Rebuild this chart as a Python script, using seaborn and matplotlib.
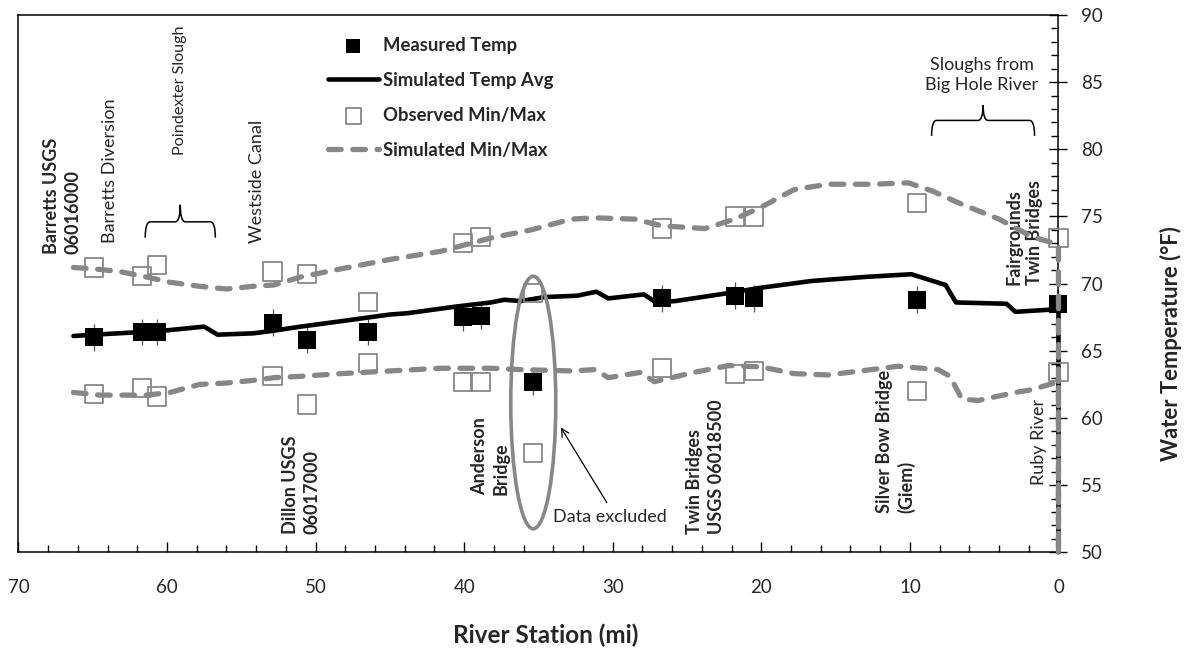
import numpy as np
import pandas as pd
import matplotlib
matplotlib.use("Agg")
import matplotlib.pyplot as plt
import seaborn as sns
from matplotlib.path import Path
from matplotlib.patches import PathPatch, Ellipse
from matplotlib.ticker import MultipleLocator

sns.set_style("white")
plt.rcParams["font.family"] = ["Lato", "DejaVu Sans"]

# ---- measured mean temperatures at monitoring sites ----
meas_station = [64.9, 61.7, 60.7, 52.9, 50.6, 46.5, 40.1, 38.9, 35.35, 26.7, 21.8, 20.5, 9.5, 0.0]
meas_temp = [66.0, 66.4, 66.4, 67.1, 65.8, 66.4, 67.5, 67.6, 62.7, 68.9, 69.1, 68.9, 68.8, 68.5]
meas_err = [1.0] * len(meas_station)

# ---- observed daily min / max at the same sites ----
obs_max = [71.2, 70.6, 71.4, 70.9, 70.7, 68.6, 73.0, 73.5, 69.3, 74.1, 75.0, 75.0, 76.0, 73.4]
obs_min = [61.8, 62.2, 61.6, 63.1, 61.0, 64.1, 62.7, 62.7, 57.4, 63.7, 63.3, 63.5, 62.0, 63.4]

# ---- simulated average temperature profile (drops to the axis at the mouth) ----
avg_station = [66.3, 64.9, 61.7, 60.2, 57.5, 56.6, 54.2, 52.8, 51.0, 48.3, 45.0, 43.8,
               40.5, 38.2, 37.3, 36.2, 34.6, 32.4, 31.1, 30.3, 27.9, 27.1, 25.8, 22.2,
               20.0, 16.6, 13.0, 9.9, 7.6, 6.9, 3.5, 2.9, 0.0, 0.0]
avg_temp = [66.1, 66.2, 66.4, 66.5, 66.8, 66.2, 66.3, 66.5, 66.8, 67.2, 67.7, 67.8,
            68.3, 68.6, 68.8, 68.7, 69.0, 69.1, 69.4, 68.9, 69.2, 68.6, 68.7, 69.3,
            69.7, 70.2, 70.5, 70.7, 69.9, 68.6, 68.5, 67.9, 68.1, 50.0]

# ---- simulated maximum temperature profile (drops to the axis at the mouth) ----
max_station = [66.3, 64.9, 63.2, 61.4, 59.8, 57.8, 56.0, 54.2, 52.8, 51.0, 48.3, 45.0,
               41.6, 38.2, 35.5, 32.8, 31.2, 28.5, 26.7, 23.8, 21.8, 20.0, 17.8, 15.5,
               12.5, 10.1, 8.5, 6.7, 4.0, 1.8, 0.0, 0.0]
max_temp = [71.2, 71.1, 70.9, 70.5, 70.1, 69.8, 69.6, 69.8, 69.9, 70.5, 71.1, 71.8,
            72.4, 73.4, 74.0, 74.8, 74.9, 74.8, 74.3, 74.1, 74.8, 75.7, 77.0, 77.4,
            77.4, 77.5, 76.9, 76.0, 74.8, 73.5, 72.9, 50.0]

# ---- simulated minimum temperature profile (drops to the axis at the mouth) ----
min_station = [66.3, 64.5, 61.4, 59.8, 57.8, 56.0, 54.2, 52.8, 51.0, 48.3, 45.0, 41.6,
               38.2, 36.2, 32.8, 31.2, 30.3, 28.1, 27.2, 24.5, 22.2, 20.0, 17.8, 15.5,
               10.8, 8.1, 7.3, 6.5, 5.4, 2.9, 1.8, 0.0, 0.0]
min_temp = [61.9, 61.7, 61.7, 61.9, 62.5, 62.6, 62.8, 63.0, 63.1, 63.3, 63.5, 63.7,
            63.7, 63.6, 63.5, 63.6, 63.0, 63.4, 62.7, 63.4, 63.9, 63.8, 63.3, 63.2,
            63.85, 63.6, 63.1, 61.4, 61.3, 61.9, 62.1, 62.7, 50.0]

# ---- site labels: (station, temperature at text base, text, bold, size) ----
site_labels = [
    (67.07, 72.2, "Barretts USGS\n06016000", True, 13),
    (63.83, 73.05, "Barretts Diversion", False, 13),
    (59.11, 79.6, "Poindexter Slough", False, 11.6),
    (53.94, 73.05, "Westside Canal", False, 13),
    (50.96, 51.34, "Dillon USGS\n06017000", True, 13),
    (38.26, 54.24, "Anderson\nBridge", True, 13),
    (23.76, 51.34, "Twin Bridges\nUSGS 06018500", True, 13),
    (10.95, 52.95, "Silver Bow Bridge\n(Giem)", True, 13),
    (2.30, 69.93, "Fairgrounds\nTwin Bridges", True, 13),
    (1.34, 54.98, "Ruby River", False, 13),
]

# ---- braces: (left station, right station, end temp, mid temp, tip temp) ----
braces = [
    (61.47, 56.75, 73.42, 74.6, 75.87),
    (8.54, 1.61, 81.0, 82.15, 83.3),
]

GRAY = "#878787"
df_obs = pd.DataFrame({"station": meas_station * 2, "temp": obs_max + obs_min})

fig = plt.figure(figsize=(11.88, 6.48), dpi=100)
ax = fig.add_axes([0.01557, 0.1477, 0.8754, 0.8292])

ax.errorbar(meas_station, meas_temp, yerr=meas_err, fmt="none", ecolor="#555555",
            elinewidth=0.9, capsize=0, zorder=2, clip_on=False)
sns.scatterplot(x=meas_station, y=meas_temp, marker="s", s=150, color="black",
                linewidth=0, label="Measured Temp", zorder=3, clip_on=False, ax=ax)
sns.lineplot(x=avg_station, y=avg_temp, sort=False, estimator=None, color="black",
             linewidth=3.3, label="Simulated Temp Avg", zorder=4, clip_on=False, ax=ax)
sns.scatterplot(data=df_obs, x="station", y="temp", marker="s", s=170, color="none",
                edgecolor=GRAY, linewidth=1.3, label="Observed Min/Max", zorder=5,
                clip_on=False, ax=ax)
dash = (0, (2.4, 2.2))
sns.lineplot(x=max_station, y=max_temp, sort=False, estimator=None, color=GRAY,
             linewidth=3.8, linestyle=dash, dash_capstyle="round",
             label="Simulated Min/Max", zorder=6, clip_on=False, ax=ax)
sns.lineplot(x=min_station, y=min_temp, sort=False, estimator=None, color=GRAY,
             linewidth=3.8, linestyle=dash, dash_capstyle="round", zorder=6,
             clip_on=False, ax=ax)

# excluded data marker
ax.add_patch(Ellipse((35.35, 61.15), width=3.03, height=18.8, fill=False,
                     edgecolor=GRAY, linewidth=2.6, zorder=7))
ax.annotate("", xy=(33.5, 59.3), xytext=(30.4, 53.7),
            arrowprops=dict(arrowstyle="->", color="black", lw=0.9,
                            shrinkA=0, shrinkB=0, mutation_scale=14))
ax.text(30.2, 52.6, "Data excluded", ha="center", va="center", fontsize=13)

for x, y, s, bold, size in site_labels:
    ax.text(x, y, s, rotation=90, ha="center", va="bottom", multialignment="left",
            fontsize=size, fontweight="bold" if bold else "normal", linespacing=1.3)

ax.text(5.17, 85.5, "Sloughs from\nBig Hole River", ha="center", va="center",
        fontsize=13, linespacing=1.3)

# curly braces
r = 0.34
for x0, x1, ye, ym, yt in braces:
    xc = (x0 + x1) / 2
    verts = [(x0, ye), (x0, ym), (x0 - r, ym), (xc + r, ym), (xc, ym), (xc, yt),
             (xc, ym), (xc - r, ym), (x1 + r, ym), (x1, ym), (x1, ye)]
    codes = [Path.MOVETO, Path.CURVE3, Path.CURVE3, Path.LINETO, Path.CURVE3, Path.CURVE3,
             Path.CURVE3, Path.CURVE3, Path.LINETO, Path.CURVE3, Path.CURVE3]
    ax.add_patch(PathPatch(Path(verts, codes), fill=False, edgecolor="black", lw=1.1))

ax.set_xlim(70, 0)
ax.set_ylim(50, 90)
ax.xaxis.set_major_locator(MultipleLocator(10))
ax.xaxis.set_minor_locator(MultipleLocator(2))
ax.yaxis.tick_right()
ax.yaxis.set_major_locator(MultipleLocator(5))
ax.yaxis.set_minor_locator(MultipleLocator(1))
ax.tick_params(axis="x", which="major", direction="in", length=7, width=1, pad=19,
               labelsize=13.5, bottom=True, top=False, color="black")
ax.tick_params(axis="x", which="minor", direction="in", length=5, width=1,
               bottom=True, top=False, color="black")
ax.tick_params(axis="y", which="major", direction="inout", length=13, width=1, pad=10,
               labelsize=13.5, right=True, left=False, color="black")
ax.tick_params(axis="y", which="minor", direction="in", length=5, width=1,
               right=True, left=False, color="black")
ax.set_xlabel("")
ax.set_ylabel("")
for sp in ax.spines.values():
    sp.set_color("black")
    sp.set_linewidth(1.1)

h, l = ax.get_legend_handles_labels()
ax.legend(h, l, loc="upper left", bbox_to_anchor=(328 / 1188, 1 - 37 / 648),
          bbox_transform=fig.transFigure, frameon=False, borderpad=0, borderaxespad=0,
          handlelength=2.75, handletextpad=0.25, labelspacing=0.97, markerscale=0.85,
          prop={"weight": "bold", "size": 13.3})

fig.text(546 / 1188, 1 - 635 / 648, "River Station (mi)", ha="center", va="center",
         fontsize=17.5, fontweight="bold")
fig.text(1171 / 1188, 1 - 344 / 648, "Water Temperature (°F)", ha="center", va="center",
         rotation=90, fontsize=15.8, fontweight="bold")

fig.savefig("out.png", dpi=100)
